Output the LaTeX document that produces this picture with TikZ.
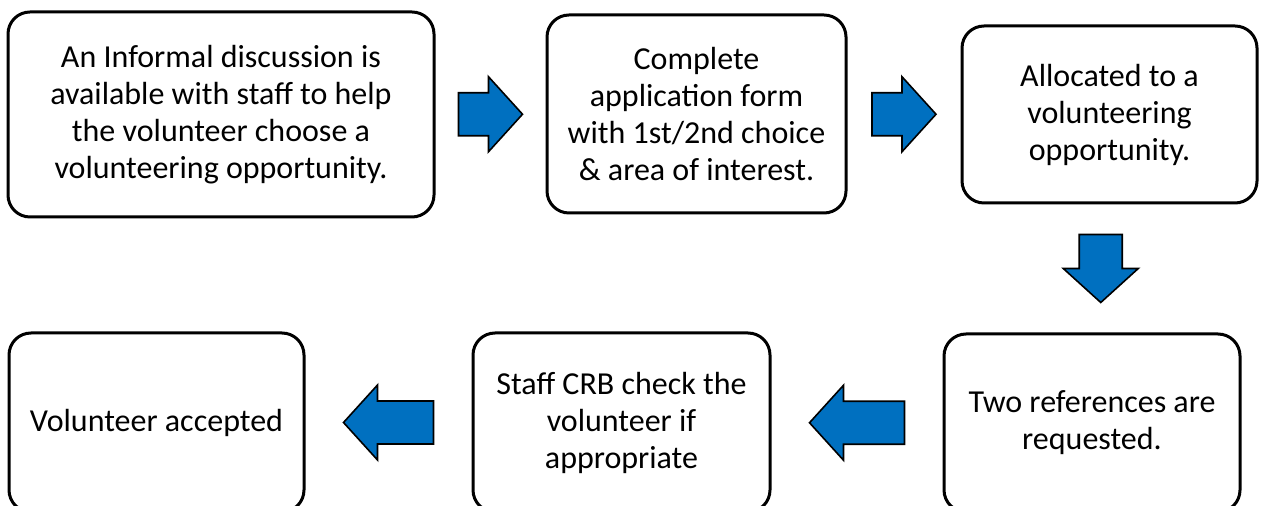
\documentclass[tikz,border=0pt]{standalone}
\usepackage{fontspec}
\setmainfont{Carlito}
\usetikzlibrary{calc}
\definecolor{arrowblue}{HTML}{0070C0}
\tikzset{
 stepbox/.style={draw, line width=1.5pt, rounded corners=11pt, align=center, inner sep=0pt, font=\fontsize{16}{18.5}\selectfont},
 barrow/.pic={\draw[fill=arrowblue, line width=0.8pt, line join=miter]
  (-#1/2,-21.5) -- (#1/2-34,-21.5) -- (#1/2-34,-37.5) -- (#1/2,0) -- (#1/2-34,37.5) -- (#1/2-34,21.5) -- (-#1/2,21.5) -- cycle;}
}

\begin{document}
\begin{tikzpicture}[x=0.5pt, y=-0.5pt]
 \clip (0,0) rectangle (1261,506);
 \fill[white] (0,0) rectangle (1261,506);
%上段
 \node[stepbox, minimum width=213pt, minimum height=102.5pt] (disc) at (221,114.5) {An Informal discussion is\\available with staff to help\\the volunteer choose a\\volunteering opportunity.};
 \node[stepbox, minimum width=149.5pt, minimum height=99pt] (form) at (696.5,114) {Complete\\application form\\with 1st/2nd choice\\\& area of interest.};
 \node[stepbox, minimum width=147.5pt, minimum height=88.5pt] (alloc) at (1109.5,114.5) {Allocated to a\\volunteering\\opportunity.};
%下段
 \node[stepbox, minimum width=148pt, minimum height=89pt] (refs) at (1092,423) {Two references are\\requested.};
 \node[stepbox, minimum width=148.5pt, minimum height=89.5pt] (crb) at (621.5,422.5) {Staff CRB check the\\volunteer if\\appropriate};
 \node[stepbox, minimum width=147.5pt, minimum height=89.5pt] (accept) at (156.5,422.5) {Volunteer accepted};
%矢印
 \path ($(disc.east)!.5!(form.west)$) pic {barrow=64};
 \path ($(form.east)!.5!(alloc.west)$) pic {barrow=64};
 \path ($(alloc.south)!.5!(refs.north)$) pic[rotate=-90] {barrow=68};
 \path ($(refs.west)!.5!(crb.east)$) pic[rotate=180] {barrow=95};
 \path ($(crb.west)!.5!(accept.east)$) pic[rotate=180] {barrow=90};
\end{tikzpicture}
\end{document}
